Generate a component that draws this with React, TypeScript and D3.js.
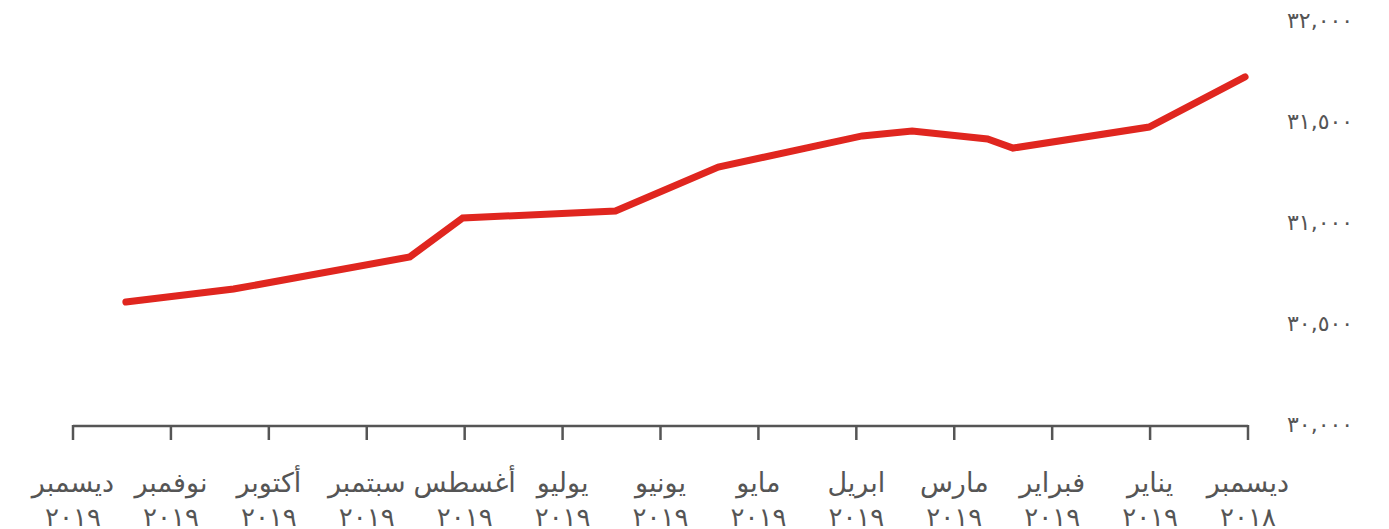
import React from 'react';
import { scaleLinear, line } from 'd3';

// months from Dec 2018 (right) to Dec 2019 (left)
const monthNames = ['ديسمبر', 'يناير', 'فبراير', 'مارس', 'ابريل', 'مايو', 'يونيو', 'يوليو', 'أغسطس', 'سبتمبر', 'أكتوبر', 'نوفمبر', 'ديسمبر'];
const monthYears = ['٢٠١٨', '٢٠١٩', '٢٠١٩', '٢٠١٩', '٢٠١٩', '٢٠١٩', '٢٠١٩', '٢٠١٩', '٢٠١٩', '٢٠١٩', '٢٠١٩', '٢٠١٩', '٢٠١٩'];

// position of each reading, in months after 1 Dec 2018
const readingMonths = [0.03, 1.01, 2.4, 2.66, 3.43, 3.94, 5.41, 6.46, 8.02, 8.56, 10.36, 11.46];
const readingValues = [31728, 31480, 31376, 31421, 31460, 31436, 31282, 31064, 31030, 30837, 30678, 30614];

const yTicks = [30000, 30500, 31000, 31500, 32000];
const yTickLabels = ['٣٠,٠٠٠', '٣٠,٥٠٠', '٣١,٠٠٠', '٣١,٥٠٠', '٣٢,٠٠٠'];

const width = 1389;
const height = 529;
const font = '"DejaVu Sans", sans-serif';
const grey = '#555';

export default function App() {
  const xScale = scaleLinear().domain([0, 12]).range([1248, 73]);
  const yScale = scaleLinear().domain([30000, 32000]).range([426, 22]);

  const points = readingMonths.map((m, i) => [m, readingValues[i]] as [number, number]);
  const path = line<[number, number]>()
    .x(d => xScale(d[0]))
    .y(d => yScale(d[1]))(points);

  const axisY = yScale(30000);

  return (
    <svg width={width} height={height} style={{ position: 'absolute', left: 0, top: 0 }}>
      {/* y labels on the right */}
      {yTicks.map((t, i) => (
        <text key={t} x={1287} y={yScale(t)} dominantBaseline="middle" fontFamily={font} fontSize={22} fill={grey}>
          {yTickLabels[i]}
        </text>
      ))}

      {/* x axis */}
      <line x1={xScale(12)} x2={xScale(0)} y1={axisY} y2={axisY} stroke={grey} strokeWidth={2.5} />
      {monthNames.map((name, i) => (
        <g key={i} transform={`translate(${xScale(i)},0)`}>
          <line y1={axisY - 1} y2={axisY + 14} stroke={grey} strokeWidth={2.5} />
          <text y={492} textAnchor="middle" fontFamily={font} fontSize={27} fill={grey}>{name}</text>
          <text y={526} textAnchor="middle" fontFamily={font} fontSize={26} fill={grey}>{monthYears[i]}</text>
        </g>
      ))}

      <path d={path ?? ''} fill="none" stroke="#e0261f" strokeWidth={7} strokeLinecap="round" strokeLinejoin="miter" />
    </svg>
  );
}
